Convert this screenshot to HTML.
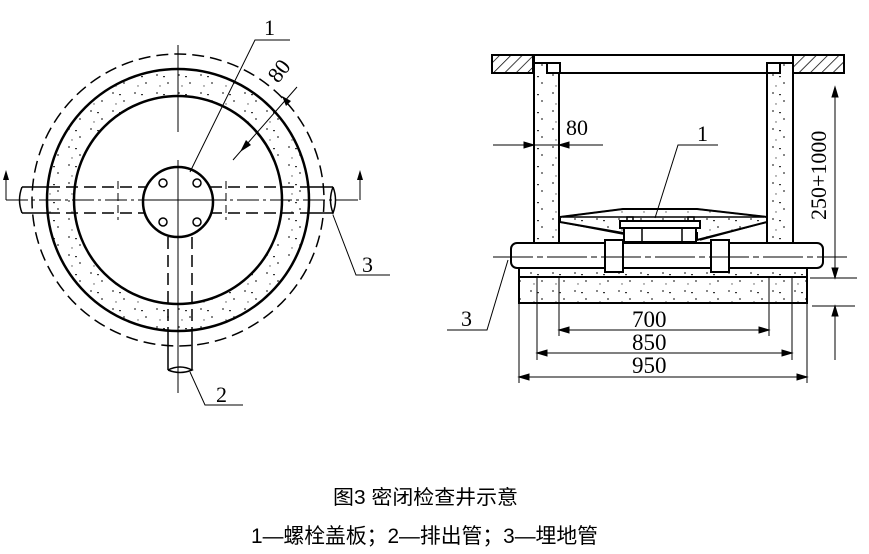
<!DOCTYPE html>
<html><head><meta charset="utf-8"><style>
html,body{margin:0;padding:0;background:#fff;width:869px;height:554px;overflow:hidden}
svg{display:block}
text{font-family:"Liberation Serif","Noto Serif CJK SC",serif;fill:#000}
.cap{font-family:"Liberation Sans","Noto Sans CJK SC",sans-serif}
</style></head><body>
<svg width="869" height="554" viewBox="0 0 869 554" xmlns="http://www.w3.org/2000/svg">
<defs>
<pattern id="dots" width="22" height="18" patternUnits="userSpaceOnUse">
<circle cx="3" cy="3" r="0.9" fill="#333"/><circle cx="14" cy="11" r="0.9" fill="#333"/><rect x="9" y="4" width="2" height="1.2" fill="#333"/><circle cx="6" cy="14" r="0.7" fill="#555"/>
</pattern>
<pattern id="hatch" width="8" height="8" patternUnits="userSpaceOnUse" patternTransform="rotate(45)">
<line x1="0" y1="0" x2="0" y2="8" stroke="#000" stroke-width="1.5"/>
</pattern>
</defs>
<g fill="none" stroke="#000" stroke-width="1.5">
<circle cx="178" cy="200" r="146" stroke-dasharray="12,6"/>
<circle cx="178" cy="200" r="117.5" stroke="url(#dots)" stroke-width="26"/>
<circle cx="178" cy="200" r="131" stroke-width="2.5"/>
<circle cx="178" cy="200" r="104" stroke-width="2.5"/>
<line x1="22" y1="187" x2="48" y2="187"/><line x1="22" y1="213" x2="48" y2="213"/>
<line x1="308" y1="187" x2="333" y2="187"/><line x1="308" y1="213" x2="333" y2="213"/>
<path d="M22 187 Q17 200 22 213"/><path d="M333 187 Q338 200 333 213 Q328 200 333 187"/>
<line x1="48" y1="187" x2="308" y2="187" stroke-dasharray="12,6"/>
<line x1="48" y1="213" x2="308" y2="213" stroke-dasharray="12,6"/>
<line x1="6" y1="200" x2="360" y2="200" stroke-width="1" stroke-dasharray="22,4,3,4"/>
<line x1="118" y1="181" x2="118" y2="220" stroke-width="1" stroke-dasharray="8,4"/>
<line x1="226" y1="181" x2="226" y2="220" stroke-width="1" stroke-dasharray="8,4"/>
<line x1="6" y1="200" x2="6" y2="176" stroke-width="1"/><path d="M3 180 L6 170 L9 180Z" fill="#000" stroke="none"/>
<line x1="360" y1="200" x2="360" y2="176" stroke-width="1"/><path d="M357 180 L360 170 L363 180Z" fill="#000" stroke="none"/>
<line x1="168" y1="237" x2="168" y2="330" stroke-dasharray="12,6"/>
<line x1="192" y1="237" x2="192" y2="330" stroke-dasharray="12,6"/>
<line x1="168" y1="330" x2="168" y2="370"/><line x1="192" y1="330" x2="192" y2="370"/>
<path d="M168 370 Q180 364 192 370 Q180 375 168 370"/>
<line x1="178" y1="45" x2="178" y2="132" stroke-width="1"/>
<line x1="178" y1="160" x2="178" y2="393" stroke-width="1"/>
<circle cx="178" cy="202" r="35" fill="#fff" stroke-width="2.5"/>
<line x1="143" y1="200" x2="213" y2="200" stroke-width="1"/>
<line x1="178" y1="167" x2="178" y2="237" stroke-width="1"/>
<circle cx="163" cy="183" r="4"/><circle cx="197" cy="183" r="4"/>
<circle cx="163" cy="222" r="4"/><circle cx="197" cy="222" r="4"/>
<polyline points="190,172 255,40 290,40" stroke-width="1"/>
<polyline points="333,215 356,275 390,275" stroke-width="1"/>
<polyline points="190,372 205,405 243,405" stroke-width="1"/>
<line x1="233" y1="160" x2="297" y2="87" stroke-width="1"/>
</g>
<path d="M246 140 L240 152 L251 145Z M286 106 L282 96 L291 101Z" fill="#000"/>
<text x="264" y="35" font-size="22">1</text>
<text x="362" y="272" font-size="22">3</text>
<text x="216" y="402" font-size="22">2</text>
<text x="0" y="0" font-size="22" transform="translate(278,84) rotate(-52)">80</text>

<g fill="none" stroke="#000" stroke-width="2">
<rect x="492" y="55" width="41" height="18" fill="url(#hatch)"/>
<rect x="793" y="55" width="51" height="18" fill="url(#hatch)"/>
<rect x="492" y="55" width="41" height="18"/>
<rect x="793" y="55" width="51" height="18"/>
<line x1="533" y1="55" x2="793" y2="55"/>
<polyline points="547,73 547,63 560,63 560,73" />
<polyline points="780,73 780,63 767,63 767,73"/>
<line x1="560" y1="73" x2="767" y2="73"/>
<path d="M534 55 L534 243 L559 243 L559 73 L547 73 L547 63 L534 63" fill="url(#dots)"/>
<path d="M793 55 L793 243 L767 243 L767 73 L780 73 L780 63 L793 63" fill="url(#dots)"/>
<path d="M560 217 L623 209 L697 209 L767 217 L767 222 L697 240 L697 233 L623 233 L560 222Z" fill="url(#dots)"/>
<polyline points="560,217 623,209 697,209 767,217" stroke-width="1.5"/>
<line x1="563" y1="217" x2="764" y2="217" stroke-width="1.5"/>
<polyline points="560,222 623,234" stroke-width="1.5"/>
<polyline points="767,222 700,240" stroke-width="1.5"/>
<rect x="620" y="221" width="80" height="7" fill="#fff"/>
<rect x="627" y="217" width="6" height="4" stroke-width="1.5"/>
<rect x="688" y="217" width="6" height="4" stroke-width="1.5"/>
<rect x="624" y="228" width="72" height="14" fill="#fff"/>
<line x1="642" y1="228" x2="642" y2="242" stroke-width="1.5"/>
<line x1="682" y1="228" x2="682" y2="242" stroke-width="1.5"/>
<rect x="519" y="277" width="288" height="26" fill="url(#dots)"/>
<rect x="519" y="268" width="288" height="9" fill="url(#dots)"/>
<rect x="511" y="243" width="312" height="25" fill="#fff" rx="6"/>
<rect x="605" y="240" width="18" height="32" fill="#fff"/>
<rect x="711" y="240" width="18" height="32" fill="#fff"/>
</g>
<g fill="none" stroke="#000" stroke-width="1">
<line x1="493" y1="257" x2="847" y2="257" stroke-dasharray="40,4,6,4"/>
<line x1="493" y1="145" x2="603" y2="145"/>
<path d="M534 145 L524 142 L524 148Z M559 145 L569 142 L569 148Z" fill="#000"/>
<polyline points="655,218 678,145 718,145"/>
<polyline points="508,260 487,330 447,330"/>
<line x1="559" y1="278" x2="559" y2="336"/><line x1="769" y1="278" x2="769" y2="336"/>
<line x1="559" y1="330" x2="769" y2="330"/>
<line x1="537" y1="278" x2="537" y2="360"/><line x1="792" y1="278" x2="792" y2="360"/>
<line x1="537" y1="353" x2="792" y2="353"/>
<line x1="519" y1="303" x2="519" y2="383"/><line x1="807" y1="303" x2="807" y2="383"/>
<line x1="519" y1="377" x2="807" y2="377"/>
<path d="M559 330 L569 327 L569 333Z M769 330 L759 327 L759 333Z M537 353 L547 350 L547 356Z M792 353 L782 350 L782 356Z M519 377 L529 374 L529 380Z M807 377 L797 374 L797 380Z" fill="#000"/>
<line x1="806" y1="73" x2="845" y2="73"/>
<line x1="835" y1="87" x2="835" y2="270"/>
<line x1="810" y1="278" x2="857" y2="278"/>
<line x1="812" y1="306" x2="855" y2="306"/>
<line x1="835" y1="306" x2="835" y2="360"/>
<path d="M835 87 L832 97 L838 97Z M835 278 L832 268 L838 268Z M835 306 L832 316 L838 316Z" fill="#000"/>
</g>
<text x="566" y="135" font-size="22">80</text>
<text x="697" y="141" font-size="22">1</text>
<text x="461" y="326" font-size="22">3</text>
<text x="632" y="327" font-size="23">700</text>
<text x="632" y="350" font-size="23">850</text>
<text x="632" y="373" font-size="23">950</text>
<text x="0" y="0" font-size="22" transform="translate(826,220) rotate(-90)">250+1000</text>

<text class="cap" x="333" y="504" font-size="20" textLength="185" lengthAdjust="spacingAndGlyphs">图3 密闭检查井示意</text>
<text class="cap" x="251" y="543" font-size="21" textLength="347" lengthAdjust="spacingAndGlyphs">1—螺栓盖板；2—排出管；3—埋地管</text>
</svg>
</body></html>
